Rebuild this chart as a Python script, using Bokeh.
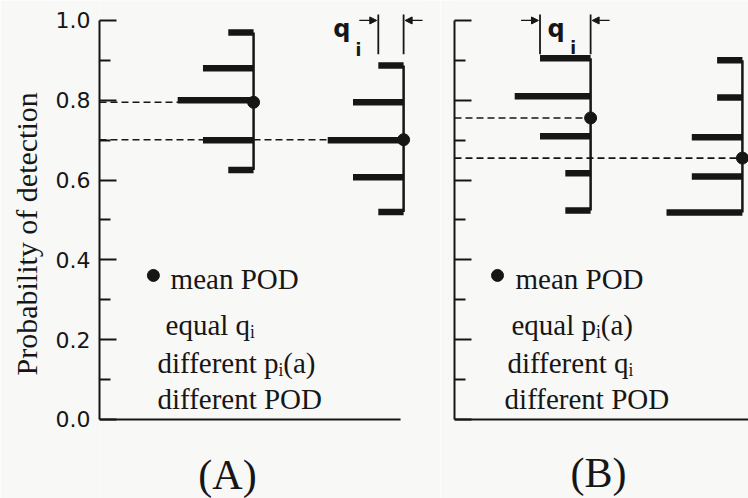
import numpy as np
from bokeh.plotting import figure
from bokeh.layouts import row
from bokeh.models import (Range1d, FixedTicker, PrintfTickFormatter, Arrow,
                          NormalHead, Title)
from bokeh.core.properties import value
from bokeh.embed import file_html
from bokeh.resources import INLINE

# ---- data -------------------------------------------------------------
# Panel (A): equal q_i, different p_i(a)
a_group_x = [6.09, 12.02]                      # position of each inspection group
a_pod = [[0.97, 0.88, 0.80, 0.70, 0.625],      # probability of detection per level
         [0.887, 0.795, 0.70, 0.607, 0.52]]
a_q = [[1, 2, 3, 2, 1],                        # q_i weight (bar length)
       [1, 2, 3, 2, 1]]

# Panel (B): equal p_i(a), different q_i
b_group_x = [5.38, 11.38]
b_pod = [[0.905, 0.81, 0.71, 0.617, 0.524],
         [0.90, 0.807, 0.707, 0.609, 0.519]]
b_q = [[2, 3, 2, 1, 1],
       [1, 1, 2, 2, 3]]

major_ticks = [0.0, 0.2, 0.4, 0.6, 0.8, 1.0]
minor_ticks = [0.1, 0.3, 0.5, 0.7, 0.9]

a_notes = ["mean POD", "equal q\u1d62", "different p\u1d62(a)", "different POD"]
b_notes = ["mean POD", "equal p\u1d62(a)", "different q\u1d62", "different POD"]
y_title = "Probability of detection"

INK = "#161616"
PAPER = "#f8f8f6"
SERIF_NAME = "Liberation Serif"
SANS_NAME = "DejaVu Sans"
SERIF = value(SERIF_NAME)
SANS = value(SANS_NAME)
PX_PER_UNIT = 25.3
Y_LOW, Y_HIGH = -79 / 399, 1.05


def make_panel(width, border_left, border_right, group_x, pods, qs, notes,
               show_labels, base_end, bracket_group, q_label_dx, i_label_dx,
               i_label_y, note_x, note_dot_x, caption, caption_x, caption_y):
    frame_w = width - border_left - border_right
    x_end = frame_w / PX_PER_UNIT
    p = figure(width=width, height=498, output_backend="svg",
               toolbar_location=None,
               x_range=Range1d(0, x_end), y_range=Range1d(Y_LOW, Y_HIGH),
               x_axis_type=None,
               min_border_left=border_left, min_border_right=border_right,
               min_border_top=0, min_border_bottom=0)
    p.background_fill_color = PAPER
    p.border_fill_color = PAPER
    p.outline_line_color = None
    p.grid.visible = False

    # y axis: ticks pointing inward, labelled only on the left panel
    ya = p.yaxis[0]
    ya.ticker = FixedTicker(ticks=major_ticks, minor_ticks=minor_ticks)
    ya.bounds = (0, 1)
    ya.formatter = PrintfTickFormatter(format="%.1f")
    ya.axis_line_color = INK
    ya.axis_line_width = 2
    ya.major_tick_line_color = INK
    ya.major_tick_line_width = 2.2
    ya.major_tick_in = 17
    ya.major_tick_out = 0
    ya.minor_tick_line_color = INK
    ya.minor_tick_line_width = 2.2
    ya.minor_tick_in = 11
    ya.minor_tick_out = 0
    if show_labels:
        ya.major_label_text_font = SANS_NAME
        ya.major_label_text_font_size = "22px"
        ya.major_label_text_color = INK
        ya.major_label_standoff = 9
        # axis title, anchored at its lower end beside the tick labels
        p.add_layout(Title(text=y_title, align="left", offset=123,
                           vertical_align="middle", standoff=17,
                           text_font=SERIF_NAME, text_font_style="normal",
                           text_font_size="30px", text_color=INK), "left")
    else:
        ya.major_label_text_color = None
        ya.major_label_standoff = 0

    # base line of the panel
    p.segment(x0=[0], y0=[0], x1=[base_end if base_end is not None else x_end],
              y1=[0], line_color=INK, line_width=2)

    # dashed guides from the axis to each mean POD
    means = [float(np.average(pv, weights=qv)) for pv, qv in zip(pods, qs)]
    p.segment(x0=[0] * len(group_x), y0=means, x1=group_x, y1=means,
              line_color=INK, line_width=1.6, line_dash="7 4")

    # each group: vertical spine, one thick bar per level, mean dot
    for gx, pv, qv in zip(group_x, pods, qs):
        p.segment(x0=[gx], y0=[min(pv)], x1=[gx], y1=[max(pv)],
                  line_color=INK, line_width=2.5)
        p.segment(x0=[gx - q for q in qv], y0=pv, x1=[gx] * len(pv), y1=pv,
                  line_color=INK, line_width=6.5, line_cap="butt")
    p.scatter(x=group_x, y=means, size=12, color=INK)

    # q_i bracket over the top bar of one group
    gx = group_x[bracket_group]
    left = gx - qs[bracket_group][0]
    p.segment(x0=[left, gx], y0=[0.915, 0.915], x1=[left, gx], y1=[1.015, 1.015],
              line_color=INK, line_width=1.8)
    for xs, xe in ((left - 0.75, left - 0.06), (gx + 0.75, gx + 0.06)):
        p.add_layout(Arrow(end=NormalHead(size=7, fill_color=INK, line_color=INK),
                           x_start=xs, y_start=1.0, x_end=xe, y_end=1.0,
                           line_color=INK, line_width=1.2))
    p.text(x=[left + q_label_dx], y=[0.978], text=["q"], text_font=SANS,
           text_font_style="bold", text_font_size="24px", text_color=INK,
           text_baseline="alphabetic")
    p.text(x=[left + i_label_dx], y=[i_label_y], text=["i"], text_font=SANS,
           text_font_style="bold", text_font_size="17px", text_color=INK,
           text_baseline="alphabetic")

    # key and notes
    p.scatter(x=[note_dot_x], y=[0.361], size=12, color=INK)
    note_y = [0.353, 0.236, 0.142, 0.052]
    p.text(x=note_x, y=note_y, text=notes, text_font=SERIF,
           text_font_size="29px", text_color=INK, text_baseline="alphabetic")

    # panel caption
    p.text(x=[caption_x], y=[caption_y], text=[caption], text_font=SERIF,
           text_font_size="42px", text_color=INK, text_align="center",
           text_baseline="middle")
    return p


pa = make_panel(440, 99, 15, a_group_x, a_pod, a_q, a_notes, True, 11.9,
                bracket_group=1, q_label_dx=-1.78, i_label_dx=-0.9,
                i_label_y=0.925, note_x=[2.81, 2.61, 2.29, 2.29], note_dot_x=2.13,
                caption="(A)", caption_x=5.06, caption_y=-0.138)
pb = make_panel(308, 14, 0, b_group_x, b_pod, b_q, b_notes, False, None,
                bracket_group=0, q_label_dx=0.3, i_label_dx=1.2,
                i_label_y=0.93, note_x=[2.41, 2.25, 2.09, 1.98], note_dot_x=1.70,
                caption="(B)", caption_x=5.69, caption_y=-0.133)

layout = row(pa, pb)
open("out.html", "w").write(file_html(layout, INLINE))
